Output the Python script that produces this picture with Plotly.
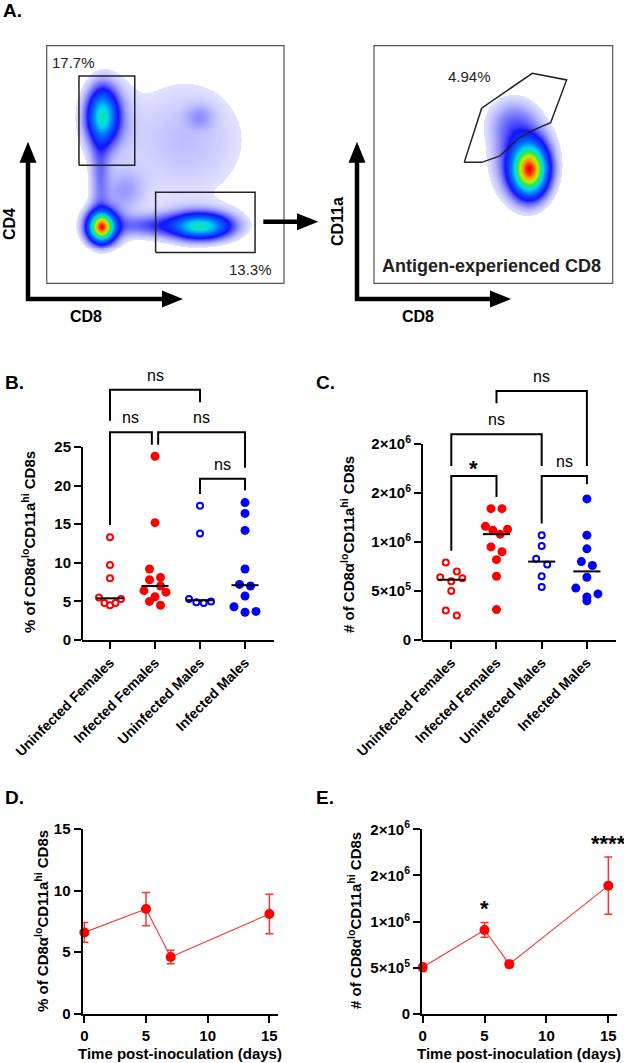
import numpy as np
import plotly.graph_objects as go

W, H = 624, 1063
FONT = "Liberation Sans, Arial, Helvetica, sans-serif"

# ---------------- data ----------------
groups = ["Uninfected Females", "Infected Females", "Uninfected Males", "Infected Males"]

pct_unf = [13.3, 9.7, 8.0, 5.5, 5.3, 4.8, 4.8, 4.5]
pct_inf = [23.8, 15.2, 9.2, 8.1, 7.8, 7.0, 6.4, 6.2, 5.6, 5.0, 4.5]
pct_unm = [17.4, 13.8, 5.3, 5.0, 4.9, 4.8]
pct_inm = [17.8, 16.4, 14.2, 9.2, 7.2, 7.0, 5.7, 4.3, 3.7, 3.6]

num_unf = [7.9e5, 7.0e5, 6.4e5, 6.3e5, 6.0e5, 5.0e5, 3.0e5, 2.5e5]
num_inf = [1.34e6, 1.34e6, 1.16e6, 1.13e6, 1.12e6, 1.08e6, 9.5e5, 9.0e5, 8.2e5, 6.5e5, 3.1e5]
num_unm = [1.07e6, 9.6e5, 8.3e5, 7.7e5, 6.5e5, 5.4e5]
num_inm = [1.44e6, 1.07e6, 9.3e5, 8.0e5, 7.6e5, 6.4e5, 5.3e5, 4.7e5, 4.4e5, 4.0e5]

b_pairs = [(0, 2), (0, 1), (1, 3), (2, 3)]
b_labels = ["ns", "ns", "ns", "ns"]
c_pairs = [(1, 3), (0, 2), (0, 1), (2, 3)]
c_labels = ["ns", "ns", "*", "ns"]

days = [0, 5, 7, 15]
pct_mean = [6.6, 8.5, 4.6, 8.1]
pct_sem = [0.8, 1.35, 0.55, 1.6]
num_mean = [5.05e5, 9.1e5, 5.4e5, 1.39e6]
num_sem = [0.45e5, 0.8e5, 0.4e5, 0.31e6]
e_sig_days = [5, 15]
e_sig_labels = ["*", "****"]

pct_ticks = [0, 5, 10, 15, 20, 25]
num_ticks = [0, 5e5, 1e6, 1.5e6, 2e6]
num_ticktext = ["0", "5×10<sup>5</sup>", "1×10<sup>6</sup>", "2×10<sup>6</sup>", "2×10<sup>6</sup>"]
day_ticks = [0, 5, 10, 15]
d_ticks = [0, 5, 10, 15]

# flow cytometry populations (arbitrary fluorescence units 0-1000)
fl_left_u = [236, 250, 232, 245, 654, 630, 225, 440, 583, 648, 330]
fl_left_v = [707, 690, 239, 250, 242, 250, 470, 245, 603, 703, 393]
fl_left_su = [40, 70, 35, 60, 75, 120, 28, 110, 200, 40, 60]
fl_left_sv = [70, 110, 38, 60, 32, 50, 140, 30, 200, 35, 60]
fl_left_pk = [0.5, 0.10, 1.0, 0.14, 0.5, 0.10, 0.10, 0.12, 0.06, 0.05, 0.07]
gate_cd4_u = [136, 371, 371, 136, 136]
gate_cd4_v = [497, 497, 872, 872, 497]
gate_cd8_u = [459, 878, 878, 459, 459]
gate_cd8_v = [130, 130, 383, 383, 130]

fl_right_u = [651, 625, 575]
fl_right_v = [477, 520, 680]
fl_right_su = [45, 75, 70]
fl_right_sv = [65, 105, 70]
fl_right_pk = [1.0, 0.22, 0.09]
gate_ag_u = [378, 451, 663, 807, 740, 667, 605, 528, 451, 378]
gate_ag_v = [509, 737, 884, 856, 676, 645, 610, 536, 509, 509]

# ---------------- helpers ----------------
def pxx(p):
    return p / W


def pxy(p):
    return 1 - p / H


def swarm_offsets(vals, px_per_unit, row_px=9.0, pair_px=11.0, span_px=22.0):
    order = sorted(range(len(vals)), key=lambda i: -vals[i])
    rows = []
    for i in order:
        if rows and (vals[rows[-1][0]] - vals[i]) * px_per_unit < row_px:
            rows[-1].append(i)
        else:
            rows.append([i])
    off = [0.0] * len(vals)
    for r in rows:
        n = len(r)
        if n == 1:
            continue
        s = pair_px if n <= 3 else span_px / (n - 1)
        pos = [(k - (n - 1) / 2) * s for k in range(n)]
        slots = []
        lo, hi = 0, n - 1
        toggle = True
        while lo <= hi:
            if toggle:
                slots.append(lo)
                lo += 1
            else:
                slots.append(hi)
                hi -= 1
            toggle = not toggle
        for rank, idx in enumerate(r):
            off[idx] = pos[slots[rank]]
    return off


fig = go.Figure()
annotations = []
shapes = []

colors = ["#ff0000", "#ff0000", "#0000ff", "#0000ff"]
is_open = [True, False, True, False]
CAT_PX = 45.0


def add_column_scatter(group_vals, xa, ya, px_per_unit):
    for i, vals in enumerate(group_vals):
        off = swarm_offsets(vals, px_per_unit)
        xs = [i + o / CAT_PX for o in off]
        if is_open[i]:
            mk = dict(symbol="circle-open", size=6, color=colors[i], line=dict(width=2, color=colors[i]))
        else:
            mk = dict(symbol="circle", size=9, color=colors[i], line=dict(width=0))
        fig.add_trace(go.Scatter(x=xs, y=vals, mode="markers", marker=mk, xaxis=xa, yaxis=ya,
                                 cliponaxis=False, showlegend=False, hoverinfo="skip"))
    for i, vals in enumerate(group_vals):
        med = float(np.median(vals))
        fig.add_trace(go.Scatter(x=[i - 0.3, i + 0.3], y=[med, med], mode="lines",
                                 line=dict(color="black", width=2), xaxis=xa, yaxis=ya,
                                 cliponaxis=False, showlegend=False, hoverinfo="skip"))


def add_brackets(pairs, labels, geom, xa, ya, axref):
    for (g1, g2), lab, (x0, x1, top, lb, rb, ly) in zip(pairs, labels, geom):
        fig.add_trace(go.Scatter(x=[x0, x0, x1, x1], y=[lb, top, top, rb], mode="lines",
                                 line=dict(color="black", width=2), xaxis=xa, yaxis=ya,
                                 cliponaxis=False, showlegend=False, hoverinfo="skip"))
        star = lab.startswith("*")
        annotations.append(dict(x=(x0 + x1) / 2, y=ly, xref=axref[0], yref=axref[1], text=lab,
                                showarrow=False, yanchor="middle",
                                font=dict(family=FONT, size=22 if star else 16,
                                          weight="bold" if star else "normal", color="black")))


# ---------------- panel B ----------------
add_column_scatter([pct_unf, pct_inf, pct_unm, pct_inm], "x", "y", 7.72)
b_geom = [
    (0, 2, 32.4, 28.4, 30.8, 34.2),
    (0, 0.93, 26.9, 14.9, 25.3, 28.8),
    (1.07, 3, 26.9, 25.3, 22.3, 28.8),
    (2, 3, 20.9, 18.9, 19.4, 22.7),
]
add_brackets(b_pairs, b_labels, b_geom, "x", "y", ("x", "y"))

# ---------------- panel C ----------------
add_column_scatter([num_unf, num_inf, num_unm, num_inm], "x2", "y2", 9.8e-5)
c_geom = [
    (1, 3, 2.54e6, 2.415e6, 1.776e6, 2.687e6),
    (0, 2, 2.10e6, 1.776e6, 1.776e6, 2.252e6),
    (0, 1, 1.673e6, 0.91e6, 1.46e6, 1.745e6),
    (2, 3, 1.673e6, 1.19e6, 1.59e6, 1.819e6),
]
add_brackets(c_pairs, c_labels, c_geom, "x2", "y2", ("x2", "y2"))

# ---------------- panels D & E ----------------
for xa, ya, mean, sem in (("x3", "y3", pct_mean, pct_sem), ("x4", "y4", num_mean, num_sem)):
    fig.add_trace(go.Scatter(x=days, y=mean, mode="lines+markers", xaxis=xa, yaxis=ya,
                             line=dict(color="#ff3b3b", width=1.2),
                             marker=dict(color="#ff0000", size=10),
                             error_y=dict(type="data", array=sem, color="#ff3030", thickness=1.5, width=4),
                             cliponaxis=False, showlegend=False, hoverinfo="skip"))
for d, lab in zip(e_sig_days, e_sig_labels):
    i = days.index(d)
    annotations.append(dict(x=d, y=num_mean[i] + num_sem[i] + 1.5e5, xref="x4", yref="y4", text=lab,
                            showarrow=False, yanchor="middle",
                            font=dict(family=FONT, size=22, weight="bold", color="black")))

# ---------------- panel A (flow plots) ----------------
grid = np.linspace(0, 1000, 241)
U, V = np.meshgrid(grid, grid)


def density(us, vs, sus, svs, pks):
    Z = np.zeros_like(U)
    for cu, cv, su, sv, pk in zip(us, vs, sus, svs, pks):
        Z += pk * np.exp(-0.5 * ((U - cu) / su) ** 2 - 0.5 * ((V - cv) / sv) ** 2)
    Z = Z / Z.max()
    Z[Z < 0.025] = np.nan
    return Z


flow_cs = [
    [0.0, "rgba(50,50,255,0.14)"],
    [0.06, "rgba(30,30,255,0.5)"],
    [0.15, "rgb(20,20,255)"],
    [0.32, "rgb(0,120,255)"],
    [0.46, "rgb(0,220,235)"],
    [0.6, "rgb(40,230,90)"],
    [0.74, "rgb(190,240,0)"],
    [0.87, "rgb(255,150,0)"],
    [1.0, "rgb(255,0,0)"],
]

for xa, ya, Z in (("x5", "y5", density(fl_left_u, fl_left_v, fl_left_su, fl_left_sv, fl_left_pk)),
                  ("x6", "y6", density(fl_right_u, fl_right_v, fl_right_su, fl_right_sv, fl_right_pk))):
    fig.add_trace(go.Heatmap(x=grid, y=grid, z=Z, colorscale=flow_cs, zmin=0.025, zmax=1,
                             showscale=False, xaxis=xa, yaxis=ya, hoverinfo="skip"))

for xa, ya, gu, gv in (("x5", "y5", gate_cd4_u, gate_cd4_v), ("x5", "y5", gate_cd8_u, gate_cd8_v),
                       ("x6", "y6", gate_ag_u, gate_ag_v)):
    fig.add_trace(go.Scatter(x=gu, y=gv, mode="lines", line=dict(color="#222", width=1.5),
                             xaxis=xa, yaxis=ya, showlegend=False, hoverinfo="skip"))

annotations += [
    dict(x=111, y=931, xref="x5", yref="y5", text="17.7%", showarrow=False,
         font=dict(family=FONT, size=15, color="#222")),
    dict(x=860, y=59, xref="x5", yref="y5", text="13.3%", showarrow=False,
         font=dict(family=FONT, size=15, color="#222")),
    dict(x=398, y=872, xref="x6", yref="y6", text="4.94%", showarrow=False,
         font=dict(family=FONT, size=15, color="#222")),
    dict(x=493, y=74, xref="x6", yref="y6", text="Antigen-experienced CD8", showarrow=False,
         font=dict(family=FONT, size=18, weight="bold", color="#222")),
]

for xr, yr in (("x5 domain", "y5 domain"), ("x6 domain", "y6 domain")):
    shapes.append(dict(type="rect", xref=xr, yref=yr, x0=0, x1=1, y0=0, y1=1,
                       line=dict(color="#555", width=1.2)))

# arrows (decoration) in paper coords
def L_arrow(xv, ytip, yh, xtip):
    base = 21
    half = 8.5
    shapes.append(dict(type="path", xref="paper", yref="paper",
                       path=f"M {pxx(xv)},{pxy(ytip + base - 1)} L {pxx(xv)},{pxy(yh)} L {pxx(xtip - base + 1)},{pxy(yh)}",
                       line=dict(color="black", width=4.5)))
    shapes.append(dict(type="path", xref="paper", yref="paper", fillcolor="black",
                       path=f"M {pxx(xv)},{pxy(ytip)} L {pxx(xv - half)},{pxy(ytip + base)} L {pxx(xv + half)},{pxy(ytip + base)} Z",
                       line=dict(color="black", width=0)))
    shapes.append(dict(type="path", xref="paper", yref="paper", fillcolor="black",
                       path=f"M {pxx(xtip)},{pxy(yh)} L {pxx(xtip - base)},{pxy(yh - half)} L {pxx(xtip - base)},{pxy(yh + half)} Z",
                       line=dict(color="black", width=0)))


L_arrow(28, 141.7, 299, 183)
L_arrow(357, 141.7, 299, 511)
shapes.append(dict(type="line", xref="paper", yref="paper", x0=pxx(263.3), x1=pxx(299), y0=pxy(221.7), y1=pxy(221.7),
                   line=dict(color="black", width=4.5)))
shapes.append(dict(type="path", xref="paper", yref="paper", fillcolor="black",
                   path=f"M {pxx(318.3)},{pxy(221.7)} L {pxx(297)},{pxy(213.2)} L {pxx(297)},{pxy(230.2)} Z",
                   line=dict(color="black", width=0)))

def ptext(x, y, text, size, bold=True, angle=0):
    annotations.append(dict(x=pxx(x), y=pxy(y), xref="paper", yref="paper", text=text, showarrow=False,
                            textangle=angle, xanchor="center", yanchor="middle",
                            font=dict(family=FONT, size=size, weight="bold" if bold else "normal", color="black")))


ptext(9, 224, "CD4", 16, angle=-90)
ptext(86, 316, "CD8", 16)
ptext(337, 222, "CD11a", 16, angle=-90)
ptext(418, 316, "CD8", 16)

# panel letters
ptext(12, 11, "A.", 19)
ptext(14, 382, "B.", 19)
ptext(325, 382, "C.", 19)
ptext(14, 797, "D.", 19)
ptext(325, 797, "E.", 19)

ytitle_pct = "% of CD8α<sup>lo</sup>CD11a<sup>hi</sup> CD8s"
ytitle_num = "# of CD8α<sup>lo</sup>CD11a<sup>hi</sup> CD8s"
ptext(28, 542, ytitle_pct, 15, angle=-90)
ptext(347, 545, ytitle_num, 15, angle=-90)
ptext(41, 921, ytitle_pct, 15, angle=-90)
ptext(354, 921, ytitle_num, 15, angle=-90)
ptext(180, 1053, "Time post-inoculation (days)", 15)
ptext(519, 1053, "Time post-inoculation (days)", 15)

# y axis lines that stop at the top tick (panels B, C)
shapes.append(dict(type="line", xref="x domain", yref="y", x0=0, x1=0, y0=0, y1=25,
                   line=dict(color="black", width=2)))
shapes.append(dict(type="line", xref="x2 domain", yref="y2", x0=0, x1=0, y0=0, y1=2e6,
                   line=dict(color="black", width=2)))

# ---------------- axes ----------------
tickfont = dict(family=FONT, size=15, weight="bold", color="black")
common = dict(showgrid=False, zeroline=False, ticks="outside", ticklen=7, tickwidth=2,
              tickcolor="black", linecolor="black", linewidth=2, tickfont=tickfont, automargin=False)
xcat = dict(common, tickfont=dict(family=FONT, size=14, weight="bold", color="black"))

pct_top = 36.0
num_top = 2.85e6

fig.update_layout(
    width=W, height=H, margin=dict(l=0, r=0, t=0, b=0),
    paper_bgcolor="white", plot_bgcolor="white", showlegend=False,
    font=dict(family=FONT, color="black"),
    xaxis=dict(domain=[pxx(82), pxx(274)], range=[-0.622, 3.644], tickvals=[0, 1, 2, 3], ticktext=groups,
               tickangle=-45, showline=True, anchor="y", **xcat),
    yaxis=dict(domain=[pxy(640), pxy(640 - pct_top * 7.72)], range=[0, pct_top], tickvals=pct_ticks,
               showline=False, anchor="x", **common),
    xaxis2=dict(domain=[pxx(422), pxx(616)], range=[-0.648, 3.644], tickvals=[0, 1, 2, 3], ticktext=groups,
                tickangle=-45, showline=True, anchor="y2", **xcat),
    yaxis2=dict(domain=[pxy(640), pxy(640 - num_top * 9.8e-5)], range=[0, num_top], tickvals=num_ticks,
                ticktext=num_ticktext, showline=False, anchor="x2", **common),
    xaxis3=dict(domain=[pxx(82.5), pxx(278)], range=[-0.15, 15.7], tickvals=day_ticks,
                showline=True, anchor="y3", **common),
    yaxis3=dict(domain=[pxy(1013.7), pxy(829)], range=[0, 15], tickvals=d_ticks,
                showline=True, anchor="x3", **common),
    xaxis4=dict(domain=[pxx(422), pxx(617)], range=[-0.05, 15.7], tickvals=day_ticks,
                showline=True, anchor="y4", **common),
    yaxis4=dict(domain=[pxy(1014), pxy(829.3)], range=[0, 2e6], tickvals=num_ticks, ticktext=num_ticktext,
                showline=True, anchor="x4", **common),
    xaxis5=dict(domain=[pxx(46.7), pxx(284)], range=[0, 1000], visible=False, anchor="y5"),
    yaxis5=dict(domain=[pxy(283.3), pxy(45.7)], range=[0, 1000], visible=False, anchor="x5"),
    xaxis6=dict(domain=[pxx(374), pxx(612.7)], range=[0, 1000], visible=False, anchor="y6"),
    yaxis6=dict(domain=[pxy(283.3), pxy(45.7)], range=[0, 1000], visible=False, anchor="x6"),
    annotations=annotations,
    shapes=shapes,
)

fig.write_html("out.html", config=dict(displayModeBar=False),
               post_script="document.body.style.margin='0px';document.body.style.overflow='hidden';")
